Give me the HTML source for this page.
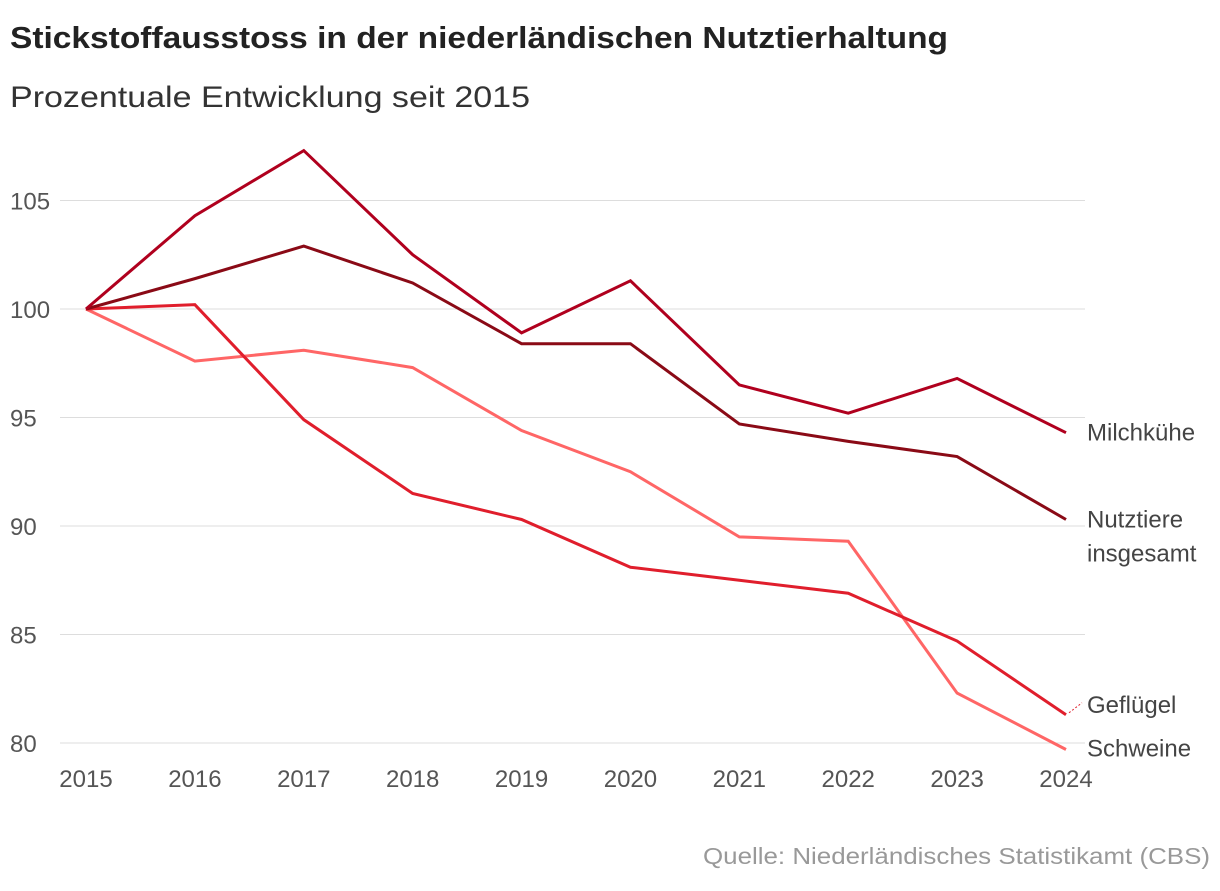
<!DOCTYPE html>
<html><head><meta charset="utf-8"><style>
body{margin:0;background:#fff;font-family:"Liberation Sans","DejaVu Sans",sans-serif;}
</style></head><body>
<svg width="1220" height="886" viewBox="0 0 1220 886" xmlns="http://www.w3.org/2000/svg">
<text x="10" y="48" font-size="31" font-weight="bold" fill="#222" textLength="938" lengthAdjust="spacingAndGlyphs">Stickstoffausstoss in der niederländischen Nutztierhaltung</text>
<text x="10" y="107" font-size="30" fill="#333" textLength="520" lengthAdjust="spacingAndGlyphs">Prozentuale Entwicklung seit 2015</text>
<g id="grid"></g>
<g id="series"></g>
<g id="labels"></g>
<text x="1210" y="864" font-size="23" fill="#999" text-anchor="end" textLength="507" lengthAdjust="spacingAndGlyphs">Quelle: Niederländisches Statistikamt (CBS)</text>
</svg>
<script>
const years = [2015,2016,2017,2018,2019,2020,2021,2022,2023,2024];
const yTicks = [80,85,90,95,100,105];
const milchkuehe = [100,104.3,107.3,102.5,98.9,101.3,96.5,95.2,96.8,94.3];
const nutztiere = [100,101.4,102.9,101.2,98.4,98.4,94.7,93.9,93.2,90.3];
const gefluegel = [100,100.2,94.9,91.5,90.3,88.1,87.5,86.9,84.7,81.3];
const schweine = [100,97.6,98.1,97.3,94.4,92.5,89.5,89.3,82.3,79.7];
const NS='http://www.w3.org/2000/svg';
const x = i => 86 + i*(1066-86)/9;
const y = v => 309 - (v-100)*21.7;
const grid=document.getElementById('grid');
yTicks.forEach(t=>{
  const l=document.createElementNS(NS,'line');
  l.setAttribute('x1',60);l.setAttribute('x2',1085);l.setAttribute('y1',y(t));l.setAttribute('y2',y(t));
  l.setAttribute('stroke','#ddd');l.setAttribute('stroke-width',1);
  
  
  grid.appendChild(l);
  const tx=document.createElementNS(NS,'text');
  tx.setAttribute('x',10);tx.setAttribute('y',y(t)+9);tx.setAttribute('font-size',24);tx.setAttribute('fill','#555');
  tx.textContent=t;
  
  
  grid.appendChild(tx);
});
years.forEach((yr,i)=>{
  const tx=document.createElementNS(NS,'text');
  tx.setAttribute('x',x(i));tx.setAttribute('y',787);tx.setAttribute('font-size',24);tx.setAttribute('fill','#555');
  tx.setAttribute('text-anchor','middle');tx.textContent=yr;
  
  
  grid.appendChild(tx);
});
const ser=document.getElementById('series');
[[schweine,'#ff6666','schweine'],[gefluegel,'#e01e2c','gefluegel'],[nutztiere,'#8a0a16','nutztiere'],[milchkuehe,'#b0001e','milchkuehe']].forEach(([d,c,n])=>{
  const p=document.createElementNS(NS,'polyline');
  p.setAttribute('points',d.map((v,i)=>x(i)+','+y(v)).join(' '));
  p.setAttribute('fill','none');p.setAttribute('stroke',c);p.setAttribute('stroke-width',3);
  
  
  ser.appendChild(p);
});
const lab=document.getElementById('labels');
const labels=[['Milchkühe',y(milchkuehe[9])+8],['Nutztiere',y(nutztiere[9])+8],['insgesamt',y(nutztiere[9])+42],['Geflügel',y(gefluegel[9])-2],['Schweine',y(schweine[9])+7]];
labels.forEach(([t,yy])=>{
  const tx=document.createElementNS(NS,'text');
  tx.setAttribute('x',1087);tx.setAttribute('y',yy);tx.setAttribute('font-size',24);tx.setAttribute('fill','#444');
  tx.textContent=t;
  
  
  lab.appendChild(tx);
});
const c=document.createElementNS(NS,'line');
c.setAttribute('x1',x(9)+3);c.setAttribute('y1',y(gefluegel[9])-2);c.setAttribute('x2',1082);c.setAttribute('y2',y(gefluegel[9])-12);
c.setAttribute('stroke','#e01e2c');c.setAttribute('stroke-width',1);c.setAttribute('stroke-dasharray','2,2');


lab.appendChild(c);
</script>
</body></html>
